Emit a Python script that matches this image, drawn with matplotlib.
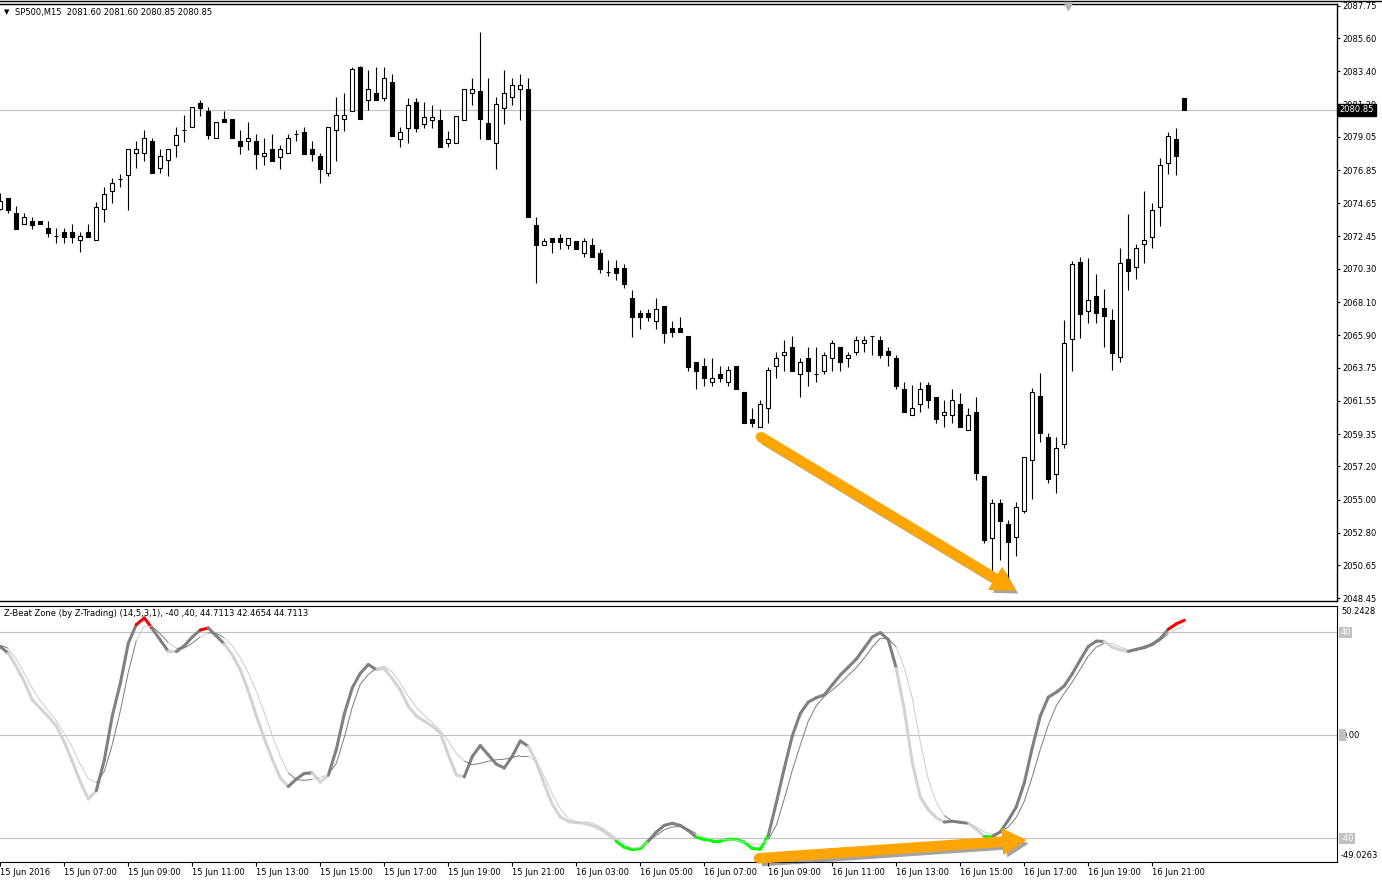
import matplotlib.pyplot as plt
import matplotlib.patheffects as pe
from matplotlib.collections import LineCollection
from matplotlib.lines import Line2D
from matplotlib.patches import Rectangle
import numpy as np


# SP500, M15 candles

opens = [
    2074.27, 2074.98, 2073.99, 2073.26, 2073.50, 2073.48, 2072.99, 2072.48, 2072.73, 2072.73,
    2072.20, 2072.73, 2072.22, 2074.25, 2075.48, 2076.24, 2076.51, 2077.96, 2077.96, 2078.76,
    2076.97, 2077.50, 2078.49, 2079.51, 2079.73, 2081.28, 2080.75, 2078.96, 2080.24, 2080.24,
    2078.76, 2078.76, 2078.76, 2077.77, 2078.23, 2077.74, 2077.96, 2079.22, 2079.36, 2078.23,
    2077.77, 2076.68, 2079.49, 2080.22, 2080.75, 2083.71, 2081.50, 2081.94, 2081.65, 2082.69,
    2078.89, 2079.62, 2081.35, 2079.89, 2080.15, 2080.15, 2078.63, 2078.63, 2080.15, 2081.94,
    2082.10, 2079.95, 2078.67, 2080.95, 2081.68, 2082.21, 2082.21, 2073.19, 2071.86, 2072.33,
    2072.33, 2071.86, 2072.13, 2071.33, 2071.86, 2071.33, 2070.07, 2070.34, 2070.34, 2068.35,
    2067.36, 2067.36, 2066.82, 2067.84, 2066.36, 2066.36, 2065.85, 2064.13, 2063.86, 2062.82,
    2063.33, 2062.82, 2063.86, 2062.12, 2060.35, 2059.84, 2061.05, 2063.86, 2064.59, 2065.10,
    2063.33, 2064.37, 2063.33, 2063.55, 2064.37, 2065.10, 2064.37, 2064.81, 2065.37, 2065.85,
    2065.58, 2064.85, 2064.37, 2062.32, 2060.61, 2061.32, 2062.58, 2061.82, 2060.59, 2060.59,
    2061.32, 2059.60, 2060.83, 2056.57, 2052.43, 2054.76, 2053.36, 2052.50, 2054.26, 2057.61,
    2061.85, 2059.13, 2056.70, 2058.67, 2065.63, 2070.74, 2067.51, 2068.50, 2067.69, 2066.91,
    2064.44, 2070.94, 2070.45, 2071.93, 2072.43, 2074.42, 2077.34, 2078.89, 2081.60]

highs = [
    2075.33, 2075.00, 2074.47, 2074.03, 2073.76, 2073.48, 2073.50, 2072.99, 2072.99, 2073.28,
    2072.73, 2073.28, 2074.76, 2075.75, 2076.31, 2076.59, 2078.23, 2078.80, 2079.51, 2078.98,
    2078.23, 2078.23, 2079.73, 2080.48, 2081.01, 2081.50, 2081.01, 2080.02, 2080.75, 2080.24,
    2079.51, 2080.02, 2079.22, 2078.98, 2079.22, 2078.49, 2079.22, 2079.51, 2079.73, 2078.76,
    2077.96, 2079.73, 2081.72, 2081.98, 2083.71, 2083.75, 2083.49, 2083.71, 2083.71, 2083.22,
    2079.73, 2081.61, 2081.61, 2081.35, 2081.15, 2080.88, 2079.46, 2080.42, 2082.21, 2082.94,
    2086.01, 2082.94, 2081.68, 2083.47, 2082.94, 2083.20, 2082.94, 2073.72, 2072.33, 2072.33,
    2072.59, 2072.33, 2072.13, 2072.33, 2072.33, 2071.60, 2070.87, 2070.87, 2070.60, 2068.90,
    2067.57, 2067.62, 2068.35, 2067.84, 2066.82, 2067.09, 2065.85, 2064.13, 2064.37, 2064.37,
    2063.86, 2063.86, 2063.86, 2062.12, 2061.05, 2061.61, 2063.81, 2064.81, 2065.58, 2065.85,
    2064.37, 2065.10, 2065.10, 2064.81, 2065.58, 2065.10, 2064.81, 2065.85, 2065.85, 2065.85,
    2065.85, 2065.10, 2064.59, 2062.82, 2062.60, 2062.82, 2062.82, 2061.82, 2061.61, 2062.32,
    2062.09, 2061.05, 2061.82, 2056.57, 2055.02, 2055.02, 2053.65, 2054.84, 2057.81, 2062.38,
    2063.42, 2059.40, 2059.13, 2066.91, 2070.82, 2071.09, 2071.04, 2069.96, 2068.95, 2067.62,
    2071.66, 2073.94, 2071.93, 2075.46, 2074.67, 2077.65, 2079.36, 2079.64, 2081.60]

lows = [
    2074.20, 2073.99, 2072.97, 2073.26, 2072.97, 2073.26, 2072.43, 2071.99, 2071.99, 2071.99,
    2071.44, 2072.43, 2072.22, 2073.43, 2074.69, 2075.75, 2074.20, 2076.97, 2077.47, 2076.68,
    2076.68, 2076.48, 2077.74, 2078.73, 2079.73, 2080.46, 2078.93, 2078.96, 2080.02, 2078.96,
    2077.94, 2078.20, 2076.94, 2077.21, 2077.47, 2076.94, 2077.96, 2078.76, 2077.94, 2077.47,
    2075.98, 2076.48, 2077.47, 2079.46, 2080.75, 2080.22, 2080.84, 2081.50, 2081.45, 2079.13,
    2078.36, 2078.63, 2079.36, 2079.62, 2079.62, 2078.36, 2078.36, 2078.63, 2080.15, 2081.19,
    2078.93, 2078.93, 2076.94, 2079.93, 2081.19, 2080.19, 2073.72, 2069.38, 2071.86, 2071.33,
    2071.60, 2071.60, 2071.60, 2071.11, 2071.11, 2070.05, 2069.83, 2069.56, 2069.03, 2065.80,
    2066.33, 2066.82, 2066.33, 2065.37, 2065.80, 2066.09, 2063.55, 2062.32, 2062.55, 2062.55,
    2062.82, 2062.55, 2062.32, 2060.06, 2059.84, 2059.84, 2060.06, 2063.09, 2063.55, 2063.55,
    2061.82, 2062.55, 2062.82, 2063.33, 2063.55, 2063.55, 2063.81, 2064.59, 2064.81, 2064.59,
    2064.37, 2063.86, 2062.32, 2060.83, 2060.61, 2060.83, 2061.05, 2060.06, 2059.84, 2060.06,
    2059.84, 2059.60, 2056.30, 2052.14, 2050.11, 2051.00, 2049.67, 2051.26, 2054.09, 2055.04,
    2058.84, 2056.12, 2055.42, 2058.40, 2063.55, 2065.74, 2066.73, 2066.69, 2065.14, 2063.60,
    2064.15, 2068.90, 2069.65, 2070.67, 2071.66, 2073.16, 2076.61, 2076.55, 2080.85]

closes = [
    2074.80, 2074.20, 2072.97, 2073.72, 2073.21, 2073.26, 2072.70, 2072.48, 2072.43, 2072.43,
    2072.46, 2072.43, 2074.42, 2075.25, 2075.97, 2076.24, 2078.23, 2078.23, 2078.96, 2076.68,
    2077.77, 2078.23, 2079.20, 2079.51, 2081.01, 2080.99, 2079.20, 2080.02, 2080.02, 2078.96,
    2078.47, 2078.96, 2077.94, 2077.96, 2077.47, 2078.23, 2078.96, 2079.22, 2077.94, 2077.94,
    2076.94, 2079.73, 2080.48, 2080.48, 2083.53, 2080.22, 2082.21, 2081.50, 2082.94, 2079.13,
    2079.36, 2081.15, 2079.62, 2080.35, 2080.35, 2078.36, 2078.89, 2080.42, 2082.21, 2082.21,
    2080.22, 2078.93, 2081.21, 2081.94, 2082.47, 2082.47, 2073.72, 2071.90, 2072.13, 2072.10,
    2072.10, 2072.33, 2071.60, 2072.13, 2071.11, 2070.31, 2070.07, 2070.05, 2069.30, 2067.09,
    2067.09, 2067.09, 2067.62, 2066.07, 2066.09, 2066.09, 2063.81, 2063.55, 2063.09, 2063.09,
    2063.09, 2063.60, 2062.32, 2060.06, 2060.06, 2061.32, 2063.57, 2064.37, 2064.81, 2063.55,
    2064.13, 2063.55, 2063.33, 2064.59, 2065.37, 2064.11, 2064.59, 2065.58, 2065.58, 2065.85,
    2064.59, 2064.59, 2062.55, 2060.83, 2061.05, 2062.32, 2061.61, 2060.33, 2060.83, 2061.61,
    2059.84, 2060.59, 2056.78, 2052.32, 2054.76, 2053.60, 2052.21, 2054.53, 2057.81, 2062.12,
    2059.40, 2056.39, 2058.40, 2065.37, 2070.60, 2067.29, 2068.24, 2067.39, 2067.18, 2064.70,
    2070.67, 2070.18, 2071.66, 2072.20, 2074.18, 2077.17, 2079.09, 2077.80, 2080.85]


# Z-Beat Zone indicator

zb_main = [
    34.4, 31.9, 26.7, 20.8, 13.7, 10.5, 7.2, 3.6, -2.6, -10.2,
    -18.1, -24.7, -21.5, -9.6, 7.6, 20.2, 35.8, 43.0, 45.6, 41.4,
    37.0, 32.6, 32.5, 34.8, 38.2, 40.9, 41.7, 38.6, 35.5, 31.2,
    25.4, 17.2, 7.6, -1.3, -9.4, -16.6, -19.9, -17.0, -14.8, -14.6,
    -18.2, -15.5, -5.5, 8.3, 18.5, 24.1, 27.5, 25.5, 25.9, 22.0,
    17.6, 11.3, 7.5, 5.5, 3.6, 0.8, -7.5, -15.4, -16.1, -8.2,
    -4.0, -7.6, -11.2, -12.7, -8.1, -2.2, -4.3, -10.4, -19.0, -26.8,
    -31.7, -33.5, -33.9, -34.2, -35.1, -36.4, -38.5, -41.2, -43.5, -44.4,
    -44.0, -41.0, -37.6, -35.0, -34.2, -35.0, -37.0, -39.6, -40.5, -40.9,
    -40.9, -40.4, -40.5, -41.5, -44.0, -44.2, -38.9, -26.2, -12.8, -0.2,
    8.5, 12.9, 14.6, 15.7, 19.6, 23.4, 26.5, 29.6, 33.9, 38.2,
    39.9, 37.2, 26.0, 10.0, -10.5, -24.0, -28.9, -32.0, -33.7, -33.4,
    -33.8, -34.2, -36.5, -39.3, -39.5, -37.5, -33.0, -27.8, -18.5, -4.8,
    7.5, 14.8, 16.7, 19.2, 23.9, 29.3, 34.5, 36.6, 36.5, 34.2,
    33.2, 32.6, 33.4, 34.2, 35.4, 37.6, 41.2, 43.3, 44.71]

zb_signal = [
    35.0, 33.8, 29.6, 24.0, 18.3, 13.4, 9.4, 5.6, 0.7, -4.7,
    -11.3, -16.8, -18.5, -14.0, -3.6, 9.5, 24.5, 36.8, 42.4, 42.3,
    39.4, 36.0, 33.8, 33.9, 35.8, 38.3, 39.8, 39.6, 37.9, 34.9,
    30.2, 24.3, 17.1, 8.9, -0.1, -8.2, -14.6, -17.2, -17.5, -17.1,
    -16.4, -15.2, -10.9, -0.8, 11.0, 19.9, 23.6, 26.1, 26.8, 24.6,
    20.2, 15.2, 10.9, 7.6, 5.1, 1.9, -2.2, -7.1, -10.0, -11.4,
    -10.9, -10.1, -9.5, -9.3, -8.6, -7.9, -7.9, -10.3, -16.0, -22.8,
    -28.5, -32.4, -33.6, -33.6, -34.0, -35.6, -37.7, -39.9, -42.0, -43.9,
    -43.5, -41.4, -38.9, -36.7, -35.6, -35.5, -36.5, -38.2, -39.6, -40.3,
    -40.4, -40.6, -40.8, -41.4, -42.2, -42.3, -40.5, -35.0, -24.7, -13.6,
    -3.8, 5.5, 11.5, 15.1, 17.6, 20.2, 23.3, 26.3, 30.0, 34.3,
    37.7, 37.5, 34.3, 26.1, 14.5, -2.5, -17.0, -26.0, -31.2, -33.3,
    -33.9, -34.3, -35.6, -37.5, -38.5, -37.6, -35.6, -31.9, -25.6, -16.1,
    -5.5, 4.0, 11.5, 16.3, 20.7, 25.7, 30.8, 34.3, 35.7, 35.7,
    34.4, 33.1, 33.1, 33.7, 34.9, 36.9, 39.5, 41.2, 42.47]

# colour of each line piece: D dark, L light, R above 40, G below -40
zone_runs = [("D", 1), ("L", 11), ("D", 5), ("R", 2), ("D", 2), ("L", 1), ("D", 3),
             ("R", 1), ("D", 2), ("L", 8), ("D", 3), ("L", 2), ("D", 6), ("L", 11),
             ("D", 8), ("L", 11), ("G", 4), ("D", 6), ("G", 9), ("D", 16), ("L", 6),
             ("D", 3), ("L", 2), ("G", 1), ("D", 14), ("L", 3), ("D", 5), ("R", 2)]

price_ticks = [2087.75, 2085.60, 2083.40, 2081.20, 2079.05, 2076.85, 2074.65, 2072.45,
               2070.30, 2068.10, 2065.90, 2063.75, 2061.55, 2059.35, 2057.20, 2055.00,
               2052.80, 2050.65, 2048.45]

time_labels = ["15 Jun 2016", "15 Jun 07:00", "15 Jun 09:00", "15 Jun 11:00", "15 Jun 13:00",
               "15 Jun 15:00", "15 Jun 17:00", "15 Jun 19:00", "15 Jun 21:00", "16 Jun 03:00",
               "16 Jun 05:00", "16 Jun 07:00", "16 Jun 09:00", "16 Jun 11:00", "16 Jun 13:00",
               "16 Jun 15:00", "16 Jun 17:00", "16 Jun 19:00", "16 Jun 21:00"]
time_ticks = list(range(0, 8 * len(time_labels), 8))

last_price = 2080.85
levels = [40, 0, -40]


plt.rcParams["font.family"] = "DejaVu Sans"
plt.rcParams["font.size"] = 6

W, H = 1382, 883
fig = plt.figure(figsize=(W / 100, H / 100), dpi=100)


def box(x0, y0, x1, y1):
    return [x0 / W, 1 - y1 / H, (x1 - x0) / W, (y1 - y0) / H]


ax = fig.add_axes(box(0, 4, 1337, 601))
ax2 = fig.add_axes(box(0, 606, 1337, 861.5))

n = len(opens)
x = np.arange(n)
o = np.array(opens)
c = np.array(closes)

# candles
ax.vlines(x, lows, highs, color="black", lw=0.8, zorder=2)
faces = ["white" if cc >= oo else "black" for oo, cc in zip(o, c)]
ax.bar(x, np.abs(c - o), bottom=np.minimum(o, c), width=0.52, color=faces,
       edgecolor="black", linewidth=0.8, zorder=3)

ax.axhline(last_price, color="#c0c0c0", lw=0.8, zorder=1)

ax.set_xlim(-0.04, 167.09)
ax.set_ylim(2048.28, 2087.86)
ax.set_xticks([])
ax.set_yticks(price_ticks)
ax.set_yticklabels(["%.2f" % p for p in price_ticks])
ax.tick_params(axis="y", left=False, right=True, labelleft=False, labelright=True,
               direction="out", length=2.5, pad=1.5, labelsize=6)
ax.spines["left"].set_visible(False)
for s in ["top", "right", "bottom"]:
    ax.spines[s].set_linewidth(1.0)

ax.text(1.002, last_price, "2080.85", transform=ax.get_yaxis_transform(), color="white",
        fontsize=6, va="center", ha="left", zorder=10, clip_on=False,
        bbox=dict(boxstyle="square,pad=0.2", fc="black", ec="black"))

# orange arrow on the price chart
shadow = [pe.SimplePatchShadow(offset=(2.5, -2.5), shadow_rgbFace=(0.2, 0.2, 0.2), alpha=0.45),
          pe.Normal()]
cap_shadow = [pe.SimpleLineShadow(offset=(2.5, -2.5), alpha=0.45), pe.Normal()]
arrow_style = "simple,head_length=0.8,head_width=0.9,tail_width=0.33"
ax.annotate("", xy=(126.8, 2049.0), xytext=(95.0, 2059.17),
            arrowprops=dict(arrowstyle=arrow_style, mutation_scale=20, color="#ffa500",
                            shrinkA=0, shrinkB=0, path_effects=shadow), zorder=6)
ax.plot([95.0], [2059.17], "o", ms=6.6, mew=0, color="#ffa500", zorder=6,
        path_effects=cap_shadow)

# indicator window
codes = "".join(k * cnt for k, cnt in zone_runs)
thick = {"D": "#808080", "L": "#d3d3d3", "R": "#ff0000", "G": "#00ff00"}
thin = {"D": "#7a7a7a", "L": "#cccccc", "R": "#cccccc", "G": "#cccccc"}

for lv in levels:
    ax2.axhline(lv, color="#c0c0c0", lw=0.8, zorder=1)

segs = [[(k, zb_main[k]), (k + 1, zb_main[k + 1])] for k in range(n - 1)]
ax2.add_collection(LineCollection(segs, colors=[thick[k] for k in codes], linewidths=2.2,
                                  capstyle="round", joinstyle="round", zorder=3))
segs2 = [[(k, zb_signal[k]), (k + 1, zb_signal[k + 1])] for k in range(n - 1)]
ax2.add_collection(LineCollection(segs2, colors=[thin[k] for k in codes], linewidths=0.7,
                                  zorder=4))

ax2.set_xlim(-0.04, 167.09)
ax2.set_ylim(-49.03, 50.24)
ax2.set_yticks([])
ax2.set_xticks(time_ticks)
ax2.set_xticklabels(time_labels, ha="left")
ax2.tick_params(axis="x", direction="out", length=3, pad=1.5, labelsize=6)
ax2.spines["left"].set_visible(False)

ax2.annotate("", xy=(128.1, -40.7), xytext=(94.75, -47.8),
             arrowprops=dict(arrowstyle=arrow_style, mutation_scale=20, color="#ffa500",
                             shrinkA=0, shrinkB=0, path_effects=shadow),
             zorder=6, annotation_clip=False)
ax2.plot([94.75], [-47.8], "o", ms=6.6, mew=0, color="#ffa500", zorder=6, clip_on=False,
         path_effects=cap_shadow)

yt = ax2.get_yaxis_transform()
ax2.text(1.003, 0.98, "50.2428", transform=ax2.transAxes, va="center", ha="left")
ax2.text(1.003, 0.025, "-49.0263", transform=ax2.transAxes, va="center", ha="left")
ax2.text(1.0025, 40, "40", transform=yt, va="center", ha="left", color="white", clip_on=False,
         bbox=dict(boxstyle="square,pad=0.15", fc="#c0c0c0", ec="none"))
ax2.text(1.0025, -40, "-40", transform=yt, va="center", ha="left", color="white", clip_on=False,
         bbox=dict(boxstyle="square,pad=0.15", fc="#c0c0c0", ec="none"))
fig.add_artist(Rectangle((1338.5 / W, 1 - 741 / H), 7 / W, 12 / H, transform=fig.transFigure,
                         fc="#c0c0c0", ec="none"))
ax2.text(1.003, 0, "0.00", transform=yt, va="center", ha="left", clip_on=False)

# headers and frame bits
fig.text(4 / W, 1 - 12 / H, "\u25bc", fontsize=5, va="center")
fig.text(15 / W, 1 - 12 / H, "SP500,M15  2081.60 2081.60 2080.85 2080.85", va="center")
fig.text(4 / W, 1 - 613 / H,
         "Z-Beat Zone (by Z-Trading) (14,5,3,1), -40 ,40, 44.7113 42.4654 44.7113", va="center")
fig.add_artist(Line2D([0, 1], [1 - 1 / H, 1 - 1 / H], color="black", lw=1.0))
fig.add_artist(Line2D([1068 / W], [1 - 6 / H], marker="v", ms=6, color="#b4b4b4", lw=0))

fig.savefig("out.png", dpi=100, facecolor="white")
